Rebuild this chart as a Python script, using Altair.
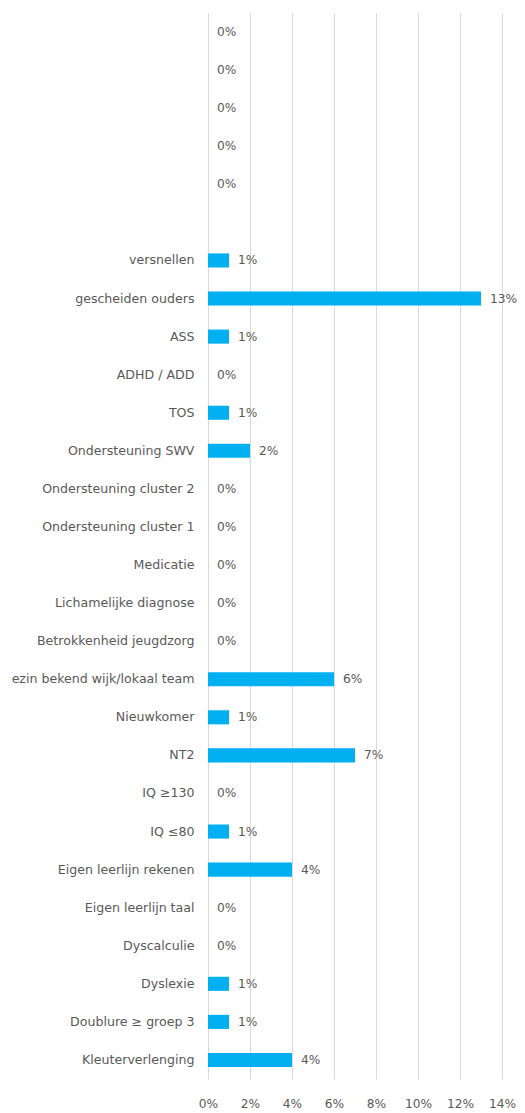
import altair as alt
import pandas as pd

categories = [" ", "  ", "   ", "    ", "     ", "      ",
              "versnellen", "gescheiden ouders", "ASS", "ADHD / ADD", "TOS",
              "Ondersteuning SWV", "Ondersteuning cluster 2", "Ondersteuning cluster 1",
              "Medicatie", "Lichamelijke diagnose", "Betrokkenheid jeugdzorg",
              "ezin bekend wijk/lokaal team", "Nieuwkomer", "NT2", "IQ ≥130", "IQ ≤80",
              "Eigen leerlijn rekenen", "Eigen leerlijn taal", "Dyscalculie", "Dyslexie",
              "Doublure ≥ groep 3", "Kleuterverlenging"]
values = [0.0, 0.0, 0.0, 0.0, 0.0, None,
          0.01, 0.13, 0.01, 0.0, 0.01,
          0.02, 0.0, 0.0,
          0.0, 0.0, 0.0,
          0.06, 0.01, 0.07, 0.0, 0.01,
          0.04, 0.0, 0.0, 0.01,
          0.01, 0.04]
x_ticks = [0, 0.02, 0.04, 0.06, 0.08, 0.10, 0.12, 0.14]

df = pd.DataFrame({"cat": categories, "val": values})

FONT = "DejaVu Sans"
GREY = "#595959"
FS = 12.6

y_enc = alt.Y("cat:N", sort=categories, title=None,
              scale=alt.Scale(paddingInner=0.63, paddingOuter=0.315, round=False),
              axis=alt.Axis(domain=False, ticks=False, labelPadding=14,
                            labelFont=FONT, labelFontSize=FS, labelColor=GREY,
                            labelLimit=400))
x_enc = alt.X("val:Q", title=None,
              scale=alt.Scale(domain=[0, 0.14], nice=False),
              axis=alt.Axis(values=x_ticks, format=".0%", domain=False, ticks=False,
                            grid=True, gridColor="#d9d9d9", gridWidth=1,
                            labelFlush=False, labelBound=False,
                            labelPadding=18, labelFont=FONT, labelFontSize=12.2,
                            labelColor=GREY))

bars = alt.Chart(df).mark_bar(color="#00B0F0").encode(y=y_enc, x=x_enc)

text = alt.Chart(df).transform_filter("datum.val != null").mark_text(
    align="left", baseline="middle", dx=9, font=FONT, fontSize=12.2, color=GREY
).encode(y=alt.Y("cat:N", sort=categories), x=alt.X("val:Q"),
         text=alt.Text("val:Q", format=".0%"))

chart = (bars + text).properties(
    width=294, height=1066,
    autosize=alt.AutoSizeParams(type="none"),
    padding={"left": 200, "top": 5, "right": 15, "bottom": 30},
).configure_view(stroke=None)

chart.save("out.html", embed_options={"renderer": "svg", "actions": False})
